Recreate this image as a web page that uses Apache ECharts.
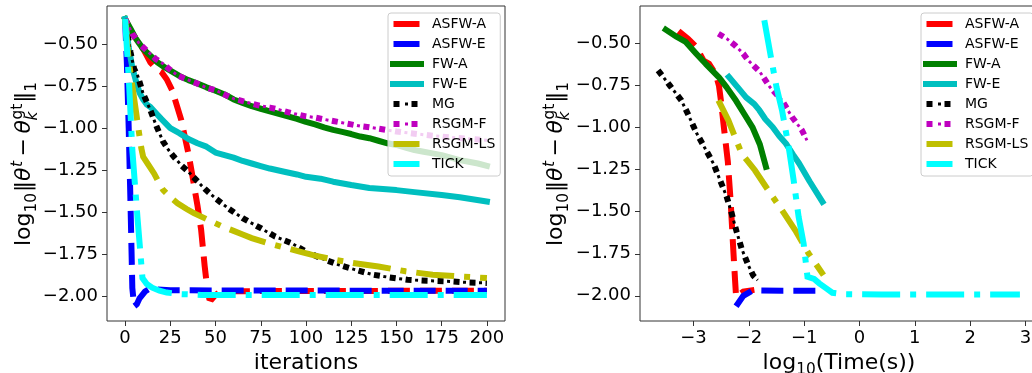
<!DOCTYPE html>
<html><head><meta charset="utf-8">
<script src="https://cdn.jsdelivr.net/npm/echarts@6/dist/echarts.min.js"></script>
<style>html,body{margin:0;padding:0;background:#fff}#c{width:1032px;height:373px}</style>
</head><body><div id="c"></div>
<script>
// ---------- data ----------
const seriesNames = ['ASFW-A','ASFW-E','FW-A','FW-E','MG','RSGM-F','RSGM-LS','TICK'];
const iterTicks = [0,25,50,75,100,125,150,175,200];
const logTimeTicks = [-3,-2,-1,0,1,2,3];
const errTicks = [-2,-1.75,-1.5,-1.25,-1,-0.75,-0.5];

// left panel: [iteration, log10 error]
const iterASFWA = [[0,-0.352],[3,-0.42],[6,-0.47],[10,-0.53],[14,-0.61],[17,-0.645],[20,-0.665],[23,-0.71],[26,-0.775],[29,-0.88],[31,-0.95],[33,-1.05],[35,-1.15],[37,-1.27],[40,-1.46],[42,-1.6],[44,-1.82],[45.5,-1.96],[46.5,-2.01],[48,-2.015],[50,-1.99],[53,-1.968],[200,-1.965]];
const iterASFWE = [[0,-0.352],[1,-0.62],[2,-1.0],[3,-1.45],[4,-1.95],[5,-2.058],[6.5,-2.045],[8,-2.01],[11,-1.97],[14,-1.95],[18,-1.958],[25,-1.963],[200,-1.966]];
const iterFWA = [[0,-0.352],[3,-0.41],[6,-0.47],[10,-0.53],[14,-0.57],[18,-0.61],[22,-0.64],[26,-0.665],[30,-0.69],[35,-0.715],[40,-0.735],[45,-0.758],[50,-0.778],[55,-0.8],[60,-0.83],[65,-0.85],[70,-0.87],[75,-0.885],[80,-0.9],[85,-0.915],[90,-0.93],[95,-0.945],[100,-0.963],[105,-0.978],[110,-0.995],[115,-1.01],[120,-1.022],[125,-1.035],[130,-1.05],[135,-1.06],[140,-1.075],[145,-1.09],[150,-1.1],[155,-1.115],[160,-1.13],[165,-1.14],[170,-1.15],[175,-1.16],[180,-1.175],[185,-1.19],[190,-1.2],[195,-1.21],[200,-1.224]];
const iterFWE = [[0,-0.352],[2,-0.52],[4,-0.64],[6,-0.72],[8,-0.79],[10,-0.83],[12,-0.86],[14,-0.875],[17,-0.91],[20,-0.945],[25,-1.0],[30,-1.03],[35,-1.065],[40,-1.09],[45,-1.11],[50,-1.145],[55,-1.16],[60,-1.175],[65,-1.195],[70,-1.21],[75,-1.225],[80,-1.24],[88,-1.259],[95,-1.275],[100,-1.289],[108,-1.3],[115,-1.318],[125,-1.338],[135,-1.355],[150,-1.368],[160,-1.38],[175,-1.397],[185,-1.41],[200,-1.436]];
const iterMG = [[0,-0.352],[3,-0.55],[5,-0.648],[7,-0.69],[10,-0.796],[14,-0.894],[17,-0.98],[21,-1.08],[24,-1.13],[27,-1.17],[31,-1.22],[35,-1.259],[42,-1.338],[46,-1.38],[50,-1.417],[57,-1.476],[65,-1.535],[75,-1.594],[83,-1.644],[92,-1.683],[100,-1.733],[108,-1.771],[118,-1.811],[127,-1.84],[137,-1.87],[146,-1.886],[156,-1.9],[167,-1.906],[180,-1.91],[189,-1.916],[200,-1.919]];
const iterRSGMF = [[0,-0.352],[4,-0.44],[8,-0.5],[13,-0.55],[17,-0.59],[21,-0.618],[25,-0.655],[29,-0.687],[34,-0.71],[38,-0.727],[45,-0.76],[50,-0.775],[56,-0.806],[60,-0.825],[65,-0.84],[70,-0.855],[75,-0.868],[80,-0.878],[85,-0.89],[90,-0.905],[95,-0.918],[100,-0.93],[105,-0.937],[110,-0.948],[115,-0.958],[120,-0.968],[125,-0.978],[130,-0.988],[135,-0.995],[140,-1.003],[150,-1.02],[160,-1.033],[170,-1.045],[180,-1.055],[190,-1.063],[200,-1.072]];
const iterRSGMLS = [[0,-0.352],[2,-0.6],[4,-0.75],[6,-0.9],[8,-1.05],[9,-1.12],[10,-1.17],[13,-1.22],[16,-1.269],[19,-1.33],[21,-1.367],[25,-1.41],[29,-1.446],[34,-1.48],[38,-1.505],[43,-1.53],[48,-1.555],[54,-1.585],[60,-1.61],[65,-1.632],[70,-1.653],[78,-1.68],[85,-1.7],[96,-1.732],[105,-1.757],[115,-1.78],[126,-1.801],[140,-1.821],[155,-1.85],[170,-1.87],[184,-1.88],[200,-1.89]];
const iterTICK = [[0,-0.352],[2.2,-0.737],[4,-1.13],[6.8,-1.525],[9.6,-1.89],[12,-1.925],[15,-1.947],[19,-1.965],[23,-1.976],[30,-1.985],[42,-1.99],[200,-1.99]];

// right panel: [log10 time, log10 error]
const timeASFWA = [[-3.27,-0.425],[-3.1,-0.47],[-2.95,-0.52],[-2.82,-0.6],[-2.72,-0.62],[-2.6,-0.68],[-2.54,-0.75],[-2.5,-0.85],[-2.45,-1.0],[-2.38,-1.2],[-2.33,-1.43],[-2.28,-1.73],[-2.25,-1.9],[-2.23,-2.006],[-2.1,-1.975],[-1.9,-1.965]];
const timeASFWE = [[-2.23,-2.062],[-2.1,-2.0],[-1.95,-1.972],[-1.8,-1.968],[-1.4,-1.97],[-1.0,-1.97],[-0.67,-1.97]];
const timeFWA = [[-3.5,-0.417],[-3.3,-0.46],[-3.14,-0.49],[-2.95,-0.56],[-2.78,-0.62],[-2.54,-0.7],[-2.4,-0.76],[-2.23,-0.84],[-2.08,-0.92],[-1.93,-1.0],[-1.8,-1.1],[-1.69,-1.233]];
const timeFWE = [[-2.36,-0.698],[-2.2,-0.76],[-2.05,-0.82],[-1.9,-0.86],[-1.81,-0.896],[-1.7,-0.95],[-1.57,-0.996],[-1.45,-1.05],[-1.33,-1.094],[-1.2,-1.16],[-1.09,-1.213],[-0.9,-1.32],[-0.67,-1.441]];
const timeMG = [[-3.64,-0.659],[-3.43,-0.748],[-3.22,-0.837],[-3.09,-0.926],[-2.94,-1.035],[-2.79,-1.124],[-2.64,-1.213],[-2.52,-1.312],[-2.4,-1.411],[-2.31,-1.51],[-2.22,-1.619],[-2.13,-1.719],[-2.01,-1.818],[-1.92,-1.88],[-1.84,-1.907]];
const timeRSGMF = [[-2.55,-0.441],[-2.4,-0.47],[-2.25,-0.51],[-2.1,-0.56],[-2.01,-0.6],[-1.8,-0.668],[-1.62,-0.758],[-1.4,-0.837],[-1.22,-0.936],[-1.04,-1.015],[-0.95,-1.075]];
const timeRSGMLS = [[-2.55,-0.837],[-2.37,-0.956],[-2.13,-1.154],[-1.89,-1.253],[-1.65,-1.372],[-1.4,-1.491],[-1.16,-1.61],[-0.92,-1.748],[-0.65,-1.877]];
const timeTICK = [[-1.72,-0.361],[-1.59,-0.599],[-1.5,-0.758],[-1.4,-0.896],[-1.28,-1.114],[-1.19,-1.312],[-1.1,-1.53],[-1.01,-1.689],[-0.94,-1.887],[-0.82,-1.9],[-0.727,-1.926],[-0.6,-1.956],[-0.49,-1.982],[-0.3,-1.99],[0.4,-1.992],[1.6,-1.993],[2.9,-1.993]];

const iterData = [iterASFWA, iterASFWE, iterFWA, iterFWE, iterMG, iterRSGMF, iterRSGMLS, iterTICK];
const timeData = [timeASFWA, timeASFWE, timeFWA, timeFWE, timeMG, timeRSGMF, timeRSGMLS, timeTICK];

// ---------- styles ----------
const FONT = '"DejaVu Sans"';
const LW = 6;
const styles = {
  'ASFW-A': {color:'#ff0000', dash:[22,10], kind:'dash'},
  'ASFW-E': {color:'#0000ff', dash:[22,10], kind:'dash'},
  'FW-A':   {color:'#008000', dash:'solid', kind:'solid'},
  'FW-E':   {color:'#00bfbf', dash:'solid', kind:'solid'},
  'MG':     {color:'#000000', dash:[6,10], kind:'dot'},
  'RSGM-F': {color:'#bf00bf', dash:[6,10], kind:'dot'},
  'RSGM-LS':{color:'#bfbf00', dash:[38,10,6,10], kind:'dash'},
  'TICK':   {color:'#00ffff', dash:[38,10,6,10], kind:'dash'}
};
const icons = {
  solid: 'path://M0,0H34V6H0Z',
  dash: 'path://M0,0M34,6M3.5,0H29.5V6H3.5Z',
  dot: 'path://M0,0M34,6M3.5,0H9.5V6H3.5ZM15,1.5H18V4.5H15ZM21.5,0H27.5V6H21.5Z'
};

const series = [];
function addSeries(name, data, gi) {
  const st = styles[name];
  series.push({
    name, type:'line', xAxisIndex:gi, yAxisIndex:gi, data, symbol:'none', showSymbol:false,
    color: st.color, itemStyle:{color:st.color},
    lineStyle:{color:st.color, width:LW, type:st.dash, cap: st.kind==='solid'?'square':'butt', join: st.kind==='solid'?'round':'miter'},
    animation:false, silent:true, clip:true
  });
  if (st.kind === 'dot') {
    series.push({
      name: name + ' dots', type:'line', xAxisIndex:gi, yAxisIndex:gi, data, symbol:'none', showSymbol:false,
      color: st.color,
      lineStyle:{color:st.color, width:3, type:[3,13], dashOffset:6.5, cap:'butt'},
      animation:false, silent:true, clip:true
    });
  }
}
seriesNames.forEach((n,i)=>addSeries(n, iterData[i], 0));
seriesNames.forEach((n,i)=>addSeries(n, timeData[i], 1));

const fmtNum = (v, d) => (v < 0 ? '\u2212' : '') + Math.abs(v).toFixed(d);

function legendFor(left) {
  return {
    left, top:13, orient:'vertical', selectedMode:false,
    backgroundColor:'rgba(255,255,255,0.8)', borderColor:'#cccccc', borderWidth:1, borderRadius:3,
    padding:[4,5,5,2], itemWidth:34, itemHeight:6, itemGap:6,
    itemStyle:{borderWidth:0},
    textStyle:{fontFamily:FONT, fontSize:14, lineHeight:14, color:'#000', padding:[0,0,0,3]},
    data: seriesNames.map(n => ({name:n, icon: icons[styles[n].kind]}))
  };
}

function yAxisFor(gi, min, max) {
  return {
    gridIndex:gi, type:'value', min, max,
    axisLine:{show:false, onZero:false}, splitLine:{show:false},
    axisTick:{show:true, customValues:errTicks, length:5, lineStyle:{color:'#333', width:1}},
    axisLabel:{customValues:errTicks, fontFamily:FONT, fontSize:18, color:'#000', margin:9,
      formatter: v => fmtNum(v, 2)}
  };
}

// ---------- y label (mathtext-like) ----------
const mctx = document.createElement('canvas').getContext('2d');
function tw(t, size, it) { mctx.font = (it?'italic ':'') + size + 'px ' + FONT; return mctx.measureText(t).width; }
function yLabel(bx, cy) {
  const S = 22, s = 15.4, K = 0.33;
  const parts = [
    {t:'log', z:S}, {t:'10', z:s, dy:5}, {t:'\u2016', z:S, pre:1}, {t:'\u03b8', z:S, it:1},
    {t:'t', z:s, it:1, dy:-9, pre:0.5}, {t:'\u2212', z:S, pre:4.5, post:4.5}, {t:'\u03b8', z:S, it:1},
    {t:'gt', z:s, dy:-9, stack:'start', pre:0.5}, {t:'k', z:s, it:1, dy:6, stack:'end'},
    {t:'\u2016', z:S, pre:1}, {t:'1', z:s, dy:5}
  ];
  let x = 0, sx = 0, sw = 0; const items = [];
  for (const p of parts) {
    x += p.pre || 0;
    const w = tw(p.t, p.z, p.it);
    if (p.stack === 'start') { sx = x; sw = w; items.push({p, x}); continue; }
    if (p.stack === 'end') { items.push({p, x: sx - 1}); x = sx + Math.max(sw, w); continue; }
    items.push({p, x}); x += w + (p.post || 0);
  }
  const W = x;
  return {
    type:'group', x:bx, y:cy, rotation:Math.PI/2, silent:true,
    children: items.map(({p, x}) => ({
      type:'text', x: x - W/2, y: (p.dy || 0) - K * p.z,
      style:{text:p.t, font:(p.it?'italic ':'') + p.z + 'px ' + FONT, fill:'#000', textAlign:'left', verticalAlign:'middle', textVerticalAlign:'middle'}
    }))
  };
}

const gridBase = {top:6, width:398, height:315, show:true, borderColor:'#333', borderWidth:1, backgroundColor:'transparent', containLabel:false, outerBoundsMode:'none'};
const option = {
  animation:false,
  textStyle:{fontFamily:FONT},
  grid:[ Object.assign({left:107}, gridBase), Object.assign({left:640}, gridBase) ],
  xAxis:[
    {gridIndex:0, type:'value', min:-10, max:210,
     axisLine:{show:false, onZero:false}, splitLine:{show:false},
     axisTick:{show:true, customValues:iterTicks, length:5, lineStyle:{color:'#333', width:1}},
     axisLabel:{customValues:iterTicks, fontFamily:FONT, fontSize:18, color:'#000', margin:8, formatter: v => String(v)},
     name:'iterations', nameLocation:'middle', nameGap:28,
     nameTextStyle:{fontFamily:FONT, fontSize:22, color:'#000'}},
    {gridIndex:1, type:'value', min:-3.967, max:3.227,
     axisLine:{show:false, onZero:false}, splitLine:{show:false},
     axisTick:{show:true, customValues:logTimeTicks, length:5, lineStyle:{color:'#333', width:1}},
     axisLabel:{customValues:logTimeTicks, fontFamily:FONT, fontSize:18, color:'#000', margin:8, formatter: v => fmtNum(v, 0)},
     name:'{a|log}{b|10}{a|(Time(s))}', nameLocation:'middle', nameGap:28,
     nameTextStyle:{fontFamily:FONT, fontSize:22, color:'#000', rich:{
       a:{fontFamily:FONT, fontSize:22, lineHeight:22, color:'#000', verticalAlign:'top'},
       b:{fontFamily:FONT, fontSize:15.4, lineHeight:15, color:'#000', verticalAlign:'top', padding:[11,0,0,0]}
     }}}
  ],
  yAxis:[ yAxisFor(0, -2.145, -0.275), yAxisFor(1, -2.15, -0.276) ],
  legend:[ legendFor(388), legendFor(921) ],
  graphic:[ yLabel(31.7, 164), yLabel(564, 164) ],
  series
};
const chart = echarts.init(document.getElementById('c'), null, {renderer:'canvas'});
chart.setOption(option);
</script></body></html>
